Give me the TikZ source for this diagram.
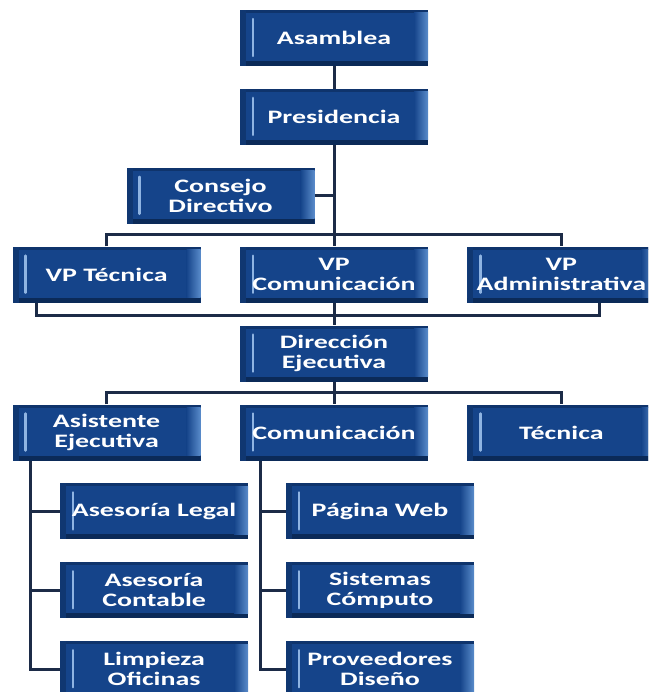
\documentclass[tikz,border=0pt]{standalone}
\usepackage{fontspec}
\newfontfamily\boxfont{Carlito}[FakeStretch=1.47]
\usepackage{xcolor}
\usepackage{tikz}
\usetikzlibrary{positioning}
\definecolor{boxblue}{HTML}{15448A}
\definecolor{boxdark}{HTML}{0B2A58}
\definecolor{boxlight}{HTML}{5A8CCB}
\definecolor{boxhilite}{HTML}{8FB4E2}
\definecolor{linkcol}{HTML}{1C2B47}
\tikzset{
  orgbox/.style={rectangle, fill=boxblue, minimum width=188pt, minimum height=56pt, inner sep=0pt, align=center,
    text=white, font=\boxfont\bfseries\fontsize{19pt}{20pt}\selectfont,
    path picture={
      \fill[boxdark] (path picture bounding box.south west) rectangle ([yshift=5pt]path picture bounding box.south east);
      \fill[boxdark!60!boxblue] ([yshift=-3pt]path picture bounding box.north west) rectangle (path picture bounding box.north east);
      \fill[boxdark!50!boxblue] (path picture bounding box.south west) rectangle ([xshift=6pt]path picture bounding box.north west);
      \shade[left color=boxblue, right color=boxlight] ([xshift=-14pt,yshift=-3pt]path picture bounding box.north east) rectangle ([yshift=5pt]path picture bounding box.south east);
      \draw[boxhilite, line width=2.5pt, line cap=round] ([xshift=13pt,yshift=-9pt]path picture bounding box.north west) -- ([xshift=13pt,yshift=10pt]path picture bounding box.south west);
    }},
  link/.style={draw=linkcol, line width=3pt},
}

\begin{document}
\begin{tikzpicture}[node distance=22.5pt and 39pt]
    \clip (0,0) rectangle (648pt,-692pt);
    \node[orgbox] (asam) at (334pt,-38pt) {Asamblea};
    \node[orgbox, below=of asam] (pres) {Presidencia};
    \node[orgbox, below=of pres, xshift=-113.5pt] (consejo) {Consejo\\Directivo};
    \node[orgbox, below=of consejo, xshift=113.5pt] (vpcom) {VP\\Comunicación};
    \node[orgbox, left=of vpcom] (vptec) {VP Técnica};
    \node[orgbox, right=of vpcom] (vpadm) {VP\\Administrativa};
    \node[orgbox, below=of vpcom] (dir) {Dirección\\Ejecutiva};
    \node[orgbox, below=of dir] (comu) {Comunicación};
    \node[orgbox, left=of comu] (asist) {Asistente\\Ejecutiva};
    \node[orgbox, right=of comu] (tecn) {Técnica};
    % area de la asistente
    \node[orgbox, below=of asist, xshift=47.5pt] (legal) {Asesoría Legal};
    \node[orgbox, below=of legal] (contable) {Asesoría\\Contable};
    \node[orgbox, below=of contable] (limpieza) {Limpieza\\Oficinas};
    % area de comunicacion
    \node[orgbox, below=of comu, xshift=46pt] (web) {Página Web};
    \node[orgbox, below=of web] (sistemas) {Sistemas\\Cómputo};
    \node[orgbox, below=of sistemas] (prov) {Proveedores\\Diseño};

    \draw[link] (asam) -- (pres);
    \draw[link] (pres) -- (vpcom);
    \draw[link] (consejo.east) -- (consejo.east -| pres.south);
    \draw[link] (vptec.north) -- ++(0,11.5pt) -| (vpadm.north);
    \draw[link] ([xshift=-70pt]vptec.south) -- ++(0,-12.5pt) -| ([xshift=38pt]vpadm.south);
    \draw[link] (vpcom) -- (dir);
    \draw[link] (dir) -- (comu);
    \draw[link] (asist.north) -- ++(0,11.5pt) -| (tecn.north);
    \draw[link] ([xshift=-76pt]asist.south) |- (legal.west);
    \draw[link] ([xshift=-76pt]asist.south) |- (contable.west);
    \draw[link] ([xshift=-76pt]asist.south) |- (limpieza.west);
    \draw[link] ([xshift=-74pt]comu.south) |- (web.west);
    \draw[link] ([xshift=-74pt]comu.south) |- (sistemas.west);
    \draw[link] ([xshift=-74pt]comu.south) |- (prov.west);
  \end{tikzpicture}
\end{document}
